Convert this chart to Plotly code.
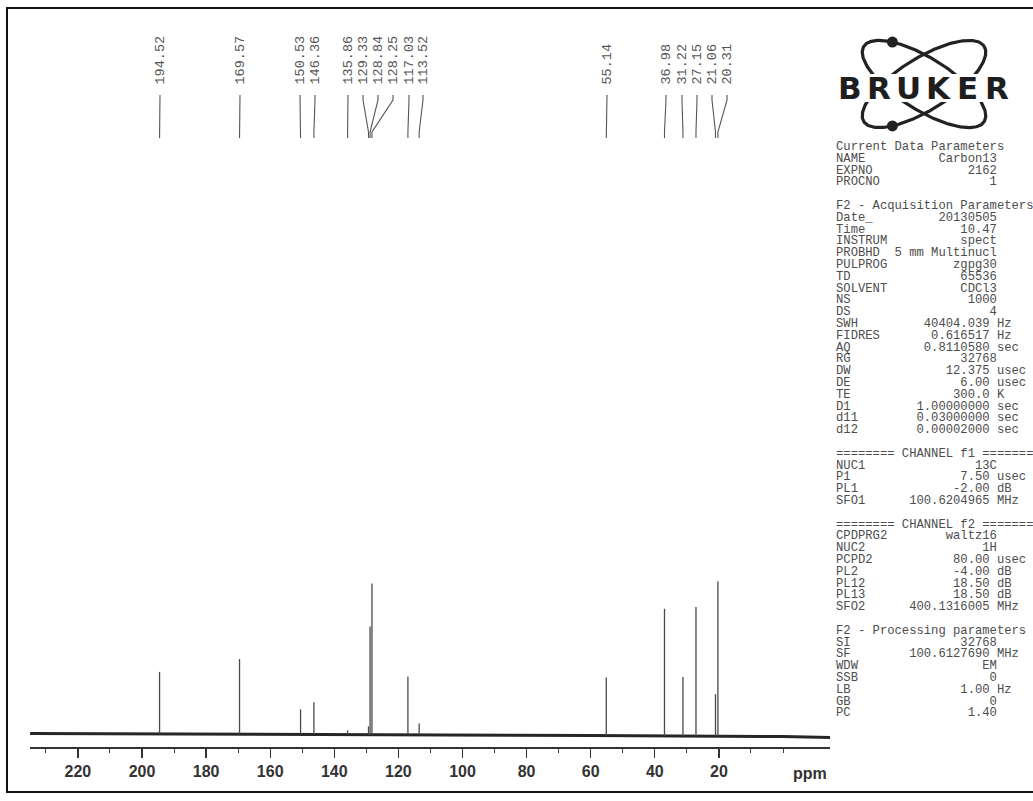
import numpy as np
import plotly.graph_objects as go

W, H = 1033, 801

# ---------------- data ----------------
peak_ppm = [194.52, 169.57, 150.53, 146.36, 135.86, 129.33, 128.84, 128.25,
            117.03, 113.52, 55.14, 36.98, 31.22, 27.15, 21.06, 20.31]
peak_int = [62, 75, 25, 32, 4, 8, 108, 151, 58, 11, 58, 127, 59, 129, 42, 155]

baseline_ppm = [234.9, 180, 120, 60, 0, -14.7]
baseline_int = [1.5, 1.0, 0.5, -0.5, -1.5, -2.5]

major_ticks = [220, 200, 180, 160, 140, 120, 100, 80, 60, 40, 20, 0]
minor_ticks = list(range(230, -1, -10))

# label x positions (pixels along the axis) for the peak-pick labels
label_px = [160, 240, 300, 315, 348, 363, 378, 393, 409, 423,
            607, 666, 682, 697, 712, 727]

param_names = ["Current Data Parameters", "NAME", "EXPNO", "PROCNO", "",
               "F2 - Acquisition Parameters", "Date_", "Time", "INSTRUM", "PROBHD",
               "PULPROG", "TD", "SOLVENT", "NS", "DS", "SWH", "FIDRES", "AQ", "RG",
               "DW", "DE", "TE", "D1", "d11", "d12", "",
               "======== CHANNEL f1 ========", "NUC1", "P1", "PL1", "SFO1", "",
               "======== CHANNEL f2 ========", "CPDPRG2", "NUC2", "PCPD2", "PL2",
               "PL12", "PL13", "SFO2", "",
               "F2 - Processing parameters", "SI", "SF", "WDW", "SSB", "LB", "GB", "PC"]
param_values = ["", "Carbon13", "2162", "1", "",
                "", "20130505", "10.47", "spect", "5 mm Multinucl",
                "zgpg30", "65536", "CDCl3", "1000", "4", "40404.039", "0.616517", "0.8110580", "32768",
                "12.375", "6.00", "300.0", "1.00000000", "0.03000000", "0.00002000", "",
                "", "13C", "7.50", "-2.00", "100.6204965", "",
                "", "waltz16", "1H", "80.00", "-4.00",
                "18.50", "18.50", "400.1316005", "",
                "", "32768", "100.6127690", "EM", "0", "1.00", "0", "1.40"]
param_units = ["", "", "", "", "",
               "", "", "", "", "",
               "", "", "", "", "", "Hz", "Hz", "sec", "",
               "usec", "usec", "K", "sec", "sec", "sec", "",
               "", "", "usec", "dB", "MHz", "",
               "", "", "", "usec", "dB",
               "dB", "dB", "MHz", "",
               "", "", "MHz", "", "", "Hz", "", ""]

logo_letters = list("BRUKER")

# ---------------- geometry helpers ----------------
X_LEFT_PX, X_RIGHT_PX = 30, 830
PX_PER_PPM = 3.205
ZERO_PX = 783.0
x_range = [(ZERO_PX - X_LEFT_PX) / PX_PER_PPM, (ZERO_PX - X_RIGHT_PX) / PX_PER_PPM]
Y_AXIS_PX = 747
BASE_PX = 735


def px_to_ppm(px):
    return (ZERO_PX - px) / PX_PER_PPM


def ypx(y):  # pixel row -> data y (1 unit = 1 px, 0 at baseline row)
    return BASE_PX - y


def px_paper(x, y):
    return x / W, 1 - y / H


fig = go.Figure()

# baseline
fig.add_trace(go.Scatter(x=baseline_ppm, y=baseline_int, mode="lines",
                         line=dict(color="#262626", width=3.0), hoverinfo="skip",
                         showlegend=False))

# peaks as sticks
bx, by = [], []
for p, h in zip(peak_ppm, peak_int):
    base = float(np.interp(-p, [-v for v in baseline_ppm], baseline_int))
    bx += [p, p, None]
    by += [base, base + h, None]
fig.add_trace(go.Scatter(x=bx, y=by, mode="lines",
                         line=dict(color="#4a4a4a", width=1.3), hoverinfo="skip",
                         showlegend=False))

# peak-pick connectors and labels
cx, cy = [], []
for p, lpx in zip(peak_ppm, label_px):
    lp = px_to_ppm(lpx)
    cx += [lp, lp, p, p, None]
    cy += [ypx(95), ypx(100), ypx(132), ypx(138), None]
fig.add_trace(go.Scatter(x=cx, y=cy, mode="lines",
                         line=dict(color="#555555", width=1.1), hoverinfo="skip",
                         showlegend=False))

annotations = []
for p, lpx in zip(peak_ppm, label_px):
    annotations.append(dict(x=px_to_ppm(lpx), y=ypx(87), xref="x", yref="y",
                            text=f"{p:.2f}", textangle=-90, showarrow=False,
                            xanchor="center", yanchor="bottom",
                            font=dict(family="Liberation Mono, Courier New, monospace",
                                      size=13.5, color="#555555")))

# ppm label
px_, py_ = px_paper(810, 773)
annotations.append(dict(x=px_, y=py_, xref="paper", yref="paper", text="<b>ppm</b>",
                        showarrow=False, xanchor="center", yanchor="middle",
                        font=dict(family="Liberation Sans, Arial", size=16, color="#333333")))

# parameter panel
NB = "\u00a0"
LINE0, LSTEP = 147.0, 11.8
mono = dict(family="Liberation Mono, Courier New, monospace", size=12.2, color="#4d4d4d")
for i, (n, v, u) in enumerate(zip(param_names, param_values, param_units)):
    if not n:
        continue
    if v == "":
        s = n
    elif u:
        s = n.ljust(8) + v.rjust(13) + " " + u
    else:
        s = n.ljust(8) + v.rjust(14)
    xx, yy = px_paper(834, LINE0 + i * LSTEP)
    annotations.append(dict(x=xx, y=yy, xref="paper", yref="paper",
                            text=s.replace(" ", NB), showarrow=False,
                            xanchor="left", yanchor="middle", font=mono))

# logo letters
for k, ch in enumerate(logo_letters):
    xx, yy = px_paper(850 + k * 29.4, 88)
    annotations.append(dict(x=xx, y=yy, xref="paper", yref="paper", text=f"<b>{ch}</b>",
                            showarrow=False, xanchor="center", yanchor="middle",
                            font=dict(family="DejaVu Sans, Arial", size=31, color="#1e1e1e")))

# logo orbits (overlay pixel axes)
t = np.linspace(0, 2 * np.pi, 300)
a, b, cxl, cyl = 71, 26, 924, 84
dots_x, dots_y = [], []
for ang, top in ((32, True), (-32, False)):
    th = np.radians(ang)
    ex = cxl + a * np.cos(t) * np.cos(th) - b * np.sin(t) * np.sin(th)
    ey = cyl + a * np.cos(t) * np.sin(th) + b * np.sin(t) * np.cos(th)
    fig.add_trace(go.Scatter(x=ex, y=ey, mode="lines", xaxis="x2", yaxis="y2",
                             line=dict(color="#222222", width=3.2), hoverinfo="skip",
                             showlegend=False))
    sel = (ey < cyl) if top else (ey > cyl)
    idx = np.where(sel)[0]
    j = idx[np.argmin(np.abs(ex[idx] - 892))]
    dots_x.append(ex[j])
    dots_y.append(ey[j])
fig.add_trace(go.Scatter(x=dots_x, y=dots_y, mode="markers", xaxis="x2", yaxis="y2",
                         marker=dict(color="#222222", size=11), hoverinfo="skip",
                         showlegend=False))

# frame + white band behind logo lettering
shapes = [dict(type="rect", xref="paper", yref="paper",
               x0=7 / W, x1=1.02, y0=1 - 792 / H, y1=1 - 8 / H,
               line=dict(color="#111111", width=2), fillcolor="rgba(0,0,0,0)"),
          dict(type="rect", xref="paper", yref="paper", layer="above",
               x0=834 / W, x1=1016 / W, y0=1 - 102 / H, y1=1 - 74 / H,
               line=dict(width=0), fillcolor="white")]

fig.update_layout(
    width=W, height=H, margin=dict(l=0, r=0, t=0, b=0),
    paper_bgcolor="white", plot_bgcolor="rgba(0,0,0,0)",
    showlegend=False, annotations=annotations, shapes=shapes,
    xaxis=dict(domain=[X_LEFT_PX / W, X_RIGHT_PX / W], range=x_range,
               showgrid=False, zeroline=False, showline=True, linecolor="#333333",
               linewidth=1.5, ticks="outside", ticklen=9, tickwidth=1.3, tickcolor="#333333",
               tickvals=major_ticks,
               ticktext=[f"<b>{v}</b>" if v != 0 else "" for v in major_ticks],
               tickfont=dict(family="Liberation Sans, Arial", size=16, color="#333333"),
               minor=dict(tickvals=minor_ticks, ticklen=4, tickwidth=1, tickcolor="#444444",
                          ticks="outside"),
               fixedrange=True, anchor="y"),
    yaxis=dict(domain=[1 - Y_AXIS_PX / H, 1], range=[ypx(Y_AXIS_PX), ypx(0)],
               visible=False, showgrid=False, zeroline=False, fixedrange=True, anchor="x"),
    xaxis2=dict(domain=[0, 1], range=[0, W], visible=False, anchor="y2", fixedrange=True),
    yaxis2=dict(domain=[0, 1], range=[H, 0], visible=False, anchor="x2", fixedrange=True),
)

fig.write_html("out.html", config={"displayModeBar": False, "staticPlot": True},
               post_script="document.body.style.margin='0';document.body.style.overflow='hidden';")
